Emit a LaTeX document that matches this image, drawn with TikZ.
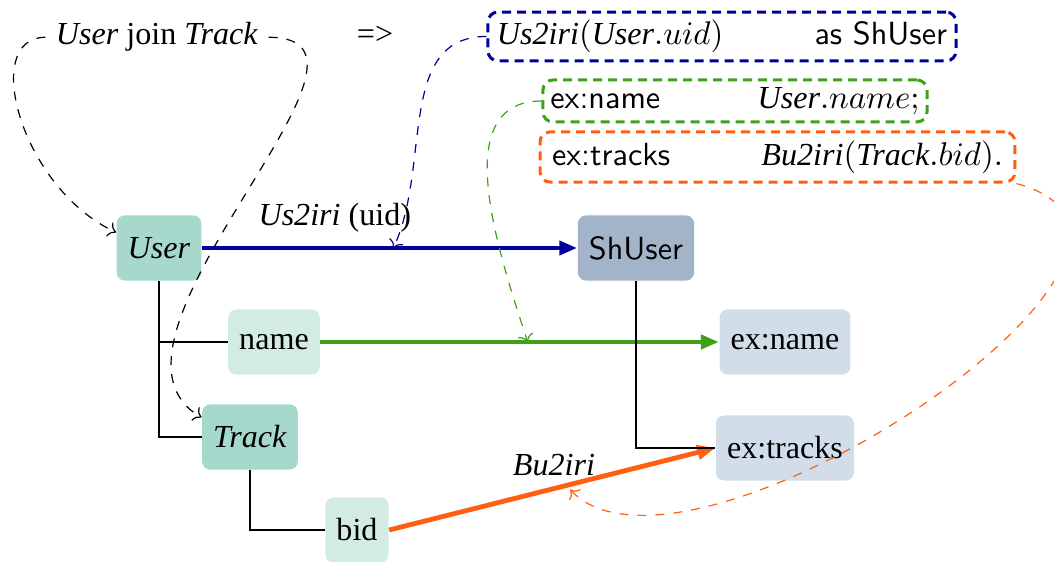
\documentclass[tikz,border=0pt]{standalone}
\usepackage{fontspec}
\setmainfont{Liberation Serif}
\usetikzlibrary{arrows.meta}
\definecolor{cblue}{RGB}{0,0,153}
\definecolor{cgreen}{RGB}{64,160,26}
\definecolor{corange}{RGB}{255,96,16}
\definecolor{tealdark}{RGB}{166,217,204}
\definecolor{teallight}{RGB}{210,236,228}
\definecolor{grayblue}{RGB}{163,180,200}
\definecolor{paleblue}{RGB}{209,222,234}
\begin{document}
\begin{tikzpicture}[x=0.33333pt, y=-0.33333pt,
  every node/.style={font=\fontsize{10.7pt}{13pt}\selectfont},
  entity/.style={rounded corners=2.7pt, inner xsep=3.7pt, inner ysep=0pt, minimum height=21.7pt},
  boxA/.style={entity, fill=tealdark},
  boxB/.style={entity, fill=teallight},
  boxC/.style={entity, fill=grayblue},
  boxD/.style={entity, fill=paleblue},
  codebox/.style={draw, dash pattern=on 3pt off 2pt, line width=1pt, rounded corners=3.3pt, inner ysep=0pt},
  thickarrow/.style={line width=1.6pt, -{Triangle[length=6pt,width=4.6pt]}},
  tree/.style={line width=0.6pt},
  link/.style={dashed, line width=0.4pt, ->}
]
\useasboundingbox (0,0) rectangle (1054,562);

% top texts
\node[anchor=base] (join) at (157,45) {\textit{User} join \textit{Track}};
\node[anchor=base] (impl) at (375,45) {=>};

\node[codebox, draw=cblue, inner xsep=3pt, text width=150pt, minimum height=16.3pt] (q1) at (722,36.5)
  {$\textit{Us2iri}(\textit{User}.uid)$\hfill\textsf{as ShUser}};
\node[codebox, draw=cgreen, inner xsep=2.5pt, text width=123pt, minimum height=14pt] (q2) at (735,101)
  {\textsf{ex:name}\hfill$\textit{User}.name;$};
\node[codebox, draw=corange, inner xsep=4pt, text width=150.3pt, minimum height=16.7pt] (q3) at (777.5,157)
  {\textsf{ex:tracks}\hfill$\textit{Bu2iri}(\textit{Track}.bid).$};

% entity nodes
\node[boxA] (User) at (159,248) {\textit{User}};
\node[boxB] (name) at (274,342) {name};
\node[boxA] (Track) at (250,437) {\textit{Track}};
\node[boxB] (bid) at (357,530) {bid};
\node[boxC] (ShUser) at (636,248) {\textsf{ShUser}};
\node[boxD] (exname) at (785,342) {ex:name};
\node[boxD] (extracks) at (785,448) {ex:tracks};

% thick arrows
\draw[thickarrow, draw=cblue, fill=cblue] (User.east) -- node[pos=0.354, above=1pt, text=black] {\textit{Us2iri} (uid)} coordinate[pos=0.51] (bm) (ShUser.west);
\draw[thickarrow, draw=cgreen, fill=cgreen] (name.east) -- coordinate[pos=0.52] (gm) (exname.west);
\draw[thickarrow, draw=corange, fill=corange] (bid.east) -- node[pos=0.505, above, text=black] {\textit{Bu2iri}} coordinate[pos=0.555, yshift=-1.7pt] (om) (extracks.west);

% tree lines
\draw[tree] (User.south) |- (Track.west);
\draw[tree] (User.south |- name.west) -- (name.west);
\draw[tree] (Track.south) |- (bid.west);
\draw[tree] (ShUser.south) |- (extracks.west);

% dashed links
\draw[link] (join.west) to[out=180, in=155, out looseness=0.8, in looseness=1.3] (User.160);
\draw[link] (join.east) to[out=0, in=150] (Track.158);
\draw[link, cblue] (q1.west) to[out=180, in=65] (bm);
\draw[link, cgreen] (q2.west) to[out=180, in=108] (gm);
\draw[link, corange] (q3.south east) to[out=-15, in=-47, out looseness=1.1, in looseness=0.8] (om);
\end{tikzpicture}
\end{document}
